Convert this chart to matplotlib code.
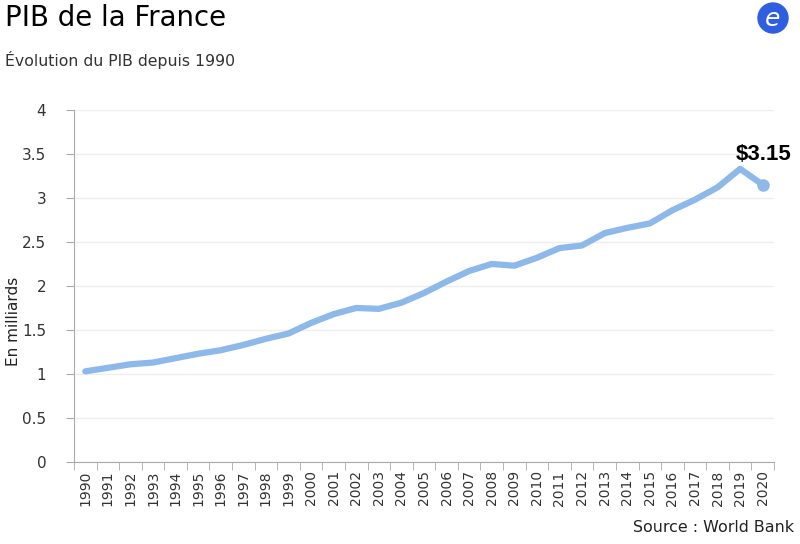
import matplotlib
matplotlib.use("Agg")
from matplotlib import pyplot as plt
from matplotlib.patches import Ellipse
import numpy as np

# data
years = [str(y) for y in range(1990, 2021)]
gdp = [1.03, 1.07, 1.11, 1.13, 1.18, 1.23, 1.27, 1.33, 1.40, 1.46,
       1.58, 1.68, 1.75, 1.74, 1.81, 1.92, 2.05, 2.17, 2.25, 2.23,
       2.32, 2.43, 2.46, 2.60, 2.66, 2.71, 2.86, 2.98, 3.12, 3.33,
       3.15]
y_ticks = [0, 0.5, 1, 1.5, 2, 2.5, 3, 3.5, 4]
y_tick_labels = ["0", "0.5", "1", "1.5", "2", "2.5", "3", "3.5", "4"]

plt.rcParams['font.family'] = ['DejaVu Sans']

fig = plt.figure(figsize=(8, 5.44), dpi=100)
ax = fig.add_axes([0.0925, 0.1507, 0.875, 0.6473])

xs = np.arange(len(years))
line_color = '#8db8ea'
ax.plot(xs, gdp, color=line_color, linewidth=4.5, solid_capstyle='round', solid_joinstyle='round')
ax.plot(xs[-1], gdp[-1], 'o', color=line_color, markersize=8)
# label for the last value, shown above the peak
ax.text(xs[-2] - 0.2, gdp[-2] + 0.04, "$" + "3.15", fontsize=16, fontweight='bold',
        ha='left', va='bottom', family='Liberation Sans')

ax.set_xlim(-0.5, len(years) - 0.5)
ax.set_ylim(0, 4)
ax.set_yticks(y_ticks)
ax.set_yticklabels(y_tick_labels, fontsize=11, color='#333333')
ax.set_xticks(xs)
ax.set_xticklabels(years, rotation=90, fontsize=10, color='#333333')
ax.tick_params(axis='x', which='major', length=0, pad=6)
ax.set_xticks(np.arange(-0.5, len(years)), minor=True)
ax.tick_params(axis='x', which='minor', length=6, color='#aaaaaa')
ax.tick_params(axis='y', length=6, color='#aaaaaa', pad=14)

ax.grid(axis='y', color='#eeeeee', linewidth=1)
ax.set_axisbelow(True)
for s in ['top', 'right']:
    ax.spines[s].set_visible(False)
ax.spines['left'].set_color('#aaaaaa')
ax.spines['bottom'].set_color('#aaaaaa')

ax.set_ylabel("En milliards", fontsize=11, color='#222222')
ax.yaxis.set_label_coords(-0.075, 0.4)

fig.text(0.006, 0.966, "PIB de la France", fontsize=19.8, va='center', ha='left')
fig.text(0.006, 0.89, "Évolution du PIB depuis 1990", fontsize=11.3, va='center', ha='left', color='#333333')
fig.text(0.993, 0.03, "Source : World Bank", fontsize=11.4, va='center', ha='right', color='#222222')

# logo
logo = Ellipse((773 / 800, 1 - 18 / 544), 30 / 800, 30 / 544, transform=fig.transFigure,
               color='#2f5fe0', zorder=5)
fig.patches.append(logo)
fig.text(773 / 800, 1 - 19 / 544, "e", fontsize=18, color='white', style='italic',
         ha='center', va='center', zorder=6)

fig.savefig("out.png", dpi=100)
